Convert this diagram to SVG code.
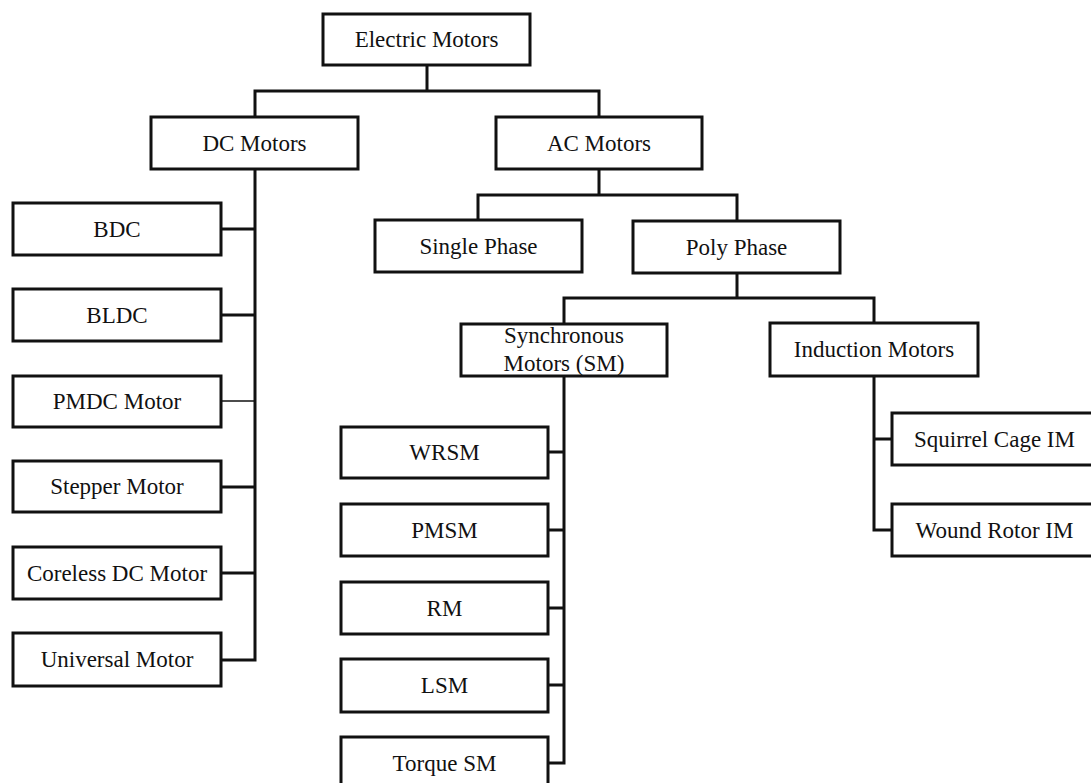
<svg xmlns="http://www.w3.org/2000/svg" width="1091" height="783" viewBox="0 0 1091 783">
<style>
.box{fill:#fff;stroke:#111;stroke-width:3}
.lbl{font-family:"Liberation Serif","Times New Roman",serif;font-size:23px;fill:#111;text-anchor:middle}
.con{fill:none;stroke:#111;stroke-width:3}
.thin{fill:none;stroke:#111;stroke-width:1.5}
</style>
<rect width="1091" height="783" fill="#fff"/>
<g id="connectors">
<path class="con" d="M427 65V91M255 117V91H599V117"/>
<path class="con" d="M599 169V195M478 220V195H737V221"/>
<path class="con" d="M737 273V298M564 324V298H874V323"/>
<path class="con" d="M255 169V660H221M221 229H255M221 315H255M221 487H255M221 573H255"/>
<path class="thin" d="M221 401H255"/>
<path class="con" d="M564 376V763H548M548 452H564M548 530H564M548 608H564M548 685H564"/>
<path class="con" d="M874 376V530H892M874 439H892"/>
</g>
<g id="n-electric"><rect class="box" x="323" y="14" width="207" height="51"/><text class="lbl" x="426.5" y="47">Electric Motors</text></g>
<g id="n-dc"><rect class="box" x="151" y="117" width="207" height="52"/><text class="lbl" x="254.5" y="150.5">DC Motors</text></g>
<g id="n-ac"><rect class="box" x="496" y="117" width="206" height="52"/><text class="lbl" x="599" y="150.5">AC Motors</text></g>
<g id="n-single"><rect class="box" x="375" y="220" width="207" height="52"/><text class="lbl" x="478.5" y="253.5">Single Phase</text></g>
<g id="n-poly"><rect class="box" x="633" y="221" width="207" height="52"/><text class="lbl" x="736.5" y="254.5">Poly Phase</text></g>
<g id="n-sync"><rect class="box" x="461" y="324" width="206" height="52"/><text class="lbl" x="564" y="343">Synchronous</text><text class="lbl" x="564" y="371">Motors (SM)</text></g>
<g id="n-induction"><rect class="box" x="770" y="323" width="208" height="53"/><text class="lbl" x="874" y="357">Induction Motors</text></g>
<g id="n-squirrel"><rect class="box" x="892" y="413" width="205" height="52"/><text class="lbl" x="994.5" y="446.5">Squirrel Cage IM</text></g>
<g id="n-wound"><rect class="box" x="892" y="504" width="205" height="52"/><text class="lbl" x="994.5" y="537.5">Wound Rotor IM</text></g>
<g id="n-bdc"><rect class="box" x="13" y="203" width="208" height="52"/><text class="lbl" x="117" y="236.5">BDC</text></g>
<g id="n-bldc"><rect class="box" x="13" y="289" width="208" height="52"/><text class="lbl" x="117" y="322.5">BLDC</text></g>
<g id="n-pmdc"><rect class="box" x="13" y="376" width="208" height="51"/><text class="lbl" x="117" y="409">PMDC Motor</text></g>
<g id="n-stepper"><rect class="box" x="13" y="461" width="208" height="51"/><text class="lbl" x="117" y="494">Stepper Motor</text></g>
<g id="n-coreless"><rect class="box" x="13" y="547" width="208" height="52"/><text class="lbl" x="117" y="580.5">Coreless DC Motor</text></g>
<g id="n-universal"><rect class="box" x="13" y="633" width="208" height="53"/><text class="lbl" x="117" y="667">Universal Motor</text></g>
<g id="n-wrsm"><rect class="box" x="341" y="427" width="207" height="51"/><text class="lbl" x="444.5" y="460">WRSM</text></g>
<g id="n-pmsm"><rect class="box" x="341" y="504" width="207" height="52"/><text class="lbl" x="444.5" y="537.5">PMSM</text></g>
<g id="n-rm"><rect class="box" x="341" y="582" width="207" height="52"/><text class="lbl" x="444.5" y="615.5">RM</text></g>
<g id="n-lsm"><rect class="box" x="341" y="659" width="207" height="53"/><text class="lbl" x="444.5" y="693">LSM</text></g>
<g id="n-torque"><rect class="box" x="341" y="737" width="207" height="52"/><text class="lbl" x="444.5" y="770.5">Torque SM</text></g>
</svg>
